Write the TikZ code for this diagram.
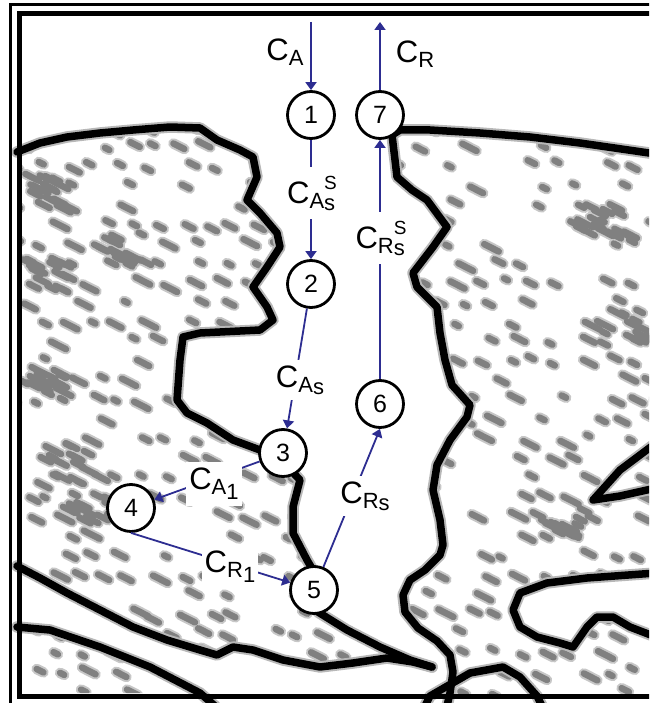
\documentclass[tikz,border=0pt]{standalone}
\usepackage{fontspec}
\setmainfont{Liberation Sans}
\usetikzlibrary{arrows.meta}
\definecolor{flowblue}{RGB}{45,45,145}
% index helpers for the concentration labels
\newcommand{\csub}[1]{\raisebox{-5pt}{\fontsize{22}{22}\selectfont #1}}
\newcommand{\csubs}[1]{\raisebox{-7pt}{\fontsize{22}{22}\selectfont #1}}
\newcommand{\csubsub}[1]{\raisebox{-10pt}{\fontsize{22}{22}\selectfont #1}}
\newcommand{\csup}[1]{\raisebox{14pt}{\fontsize{19}{19}\selectfont #1}}

\begin{document}
\begin{tikzpicture}[x=1pt,y=-1pt,
  site/.style={circle,draw=black,line width=2.8pt,fill=white,minimum size=47pt,inner sep=0pt,font=\fontsize{25}{25}\selectfont},
  flow/.style={draw=flowblue,line width=1.8pt,-{Triangle[length=8pt,width=11pt]}},
  conc/.style={fill=white,inner xsep=3pt,inner ysep=6pt,font=\fontsize{31}{31}\selectfont},
  wallhalo/.style={draw=black!28,line width=11.5pt,line join=round,line cap=round},
  wall/.style={draw=black,line width=7.5pt,line join=round,line cap=round},
  grainsoft/.style={draw=black!22,line width=10.5pt,line cap=round},
  graincore/.style={draw=black!50,line width=6.5pt,line cap=round}
]
\clip (0,0) rectangle (649,703);
\fill[white] (0,0) rectangle (649,703);

% wall outlines (used twice: soft halo, then dark core)
\def\wallpaths#1{%
\draw[#1] (17,152) -- (40,143) -- (67,137) -- (100,133) -- (133,130) -- (170,127) -- (200,128) -- (217,140) -- (240,150) -- (253,157) -- (257,177) -- (247,200) -- (260,213) -- (277,233) -- (280,247) -- (267,267) -- (253,287) -- (267,307) -- (273,320) -- (260,330) -- (200,333) -- (183,337) -- (180,360) -- (177,400) -- (187,413) -- (207,423) -- (233,440) -- (260,450) -- (283,462) -- (300,480) -- (293,507) -- (293,533) -- (307,560) -- (317,577) -- (318,612) -- (347,630) -- (380,647) -- (410,660) -- (432,667);
\draw[#1] (392,135) -- (395,160) -- (397,177) -- (412,190) -- (427,200) -- (447,227) -- (433,247) -- (413,273) -- (417,287) -- (437,307) -- (440,333) -- (445,360) -- (452,385) -- (470,405) -- (467,417) -- (450,440) -- (437,465) -- (433,490) -- (440,520) -- (443,545) -- (440,555) -- (425,570) -- (410,580) -- (403,595) -- (405,612) -- (418,628) -- (437,641) -- (450,655) -- (453,672) -- (450,693) -- (447,706);
\draw[#1] (392,135) -- (400,130) -- (430,130) -- (480,133) -- (530,137) -- (580,143) -- (656,154);
\draw[#1] (17,566) -- (40,578) -- (67,593) -- (100,610) -- (133,627) -- (167,640) -- (200,650) -- (217,655) -- (233,647) -- (253,650) -- (283,660) -- (320,667) -- (353,663) -- (387,658) -- (413,662) -- (432,667);
\draw[#1] (17,627) -- (50,630) -- (100,647) -- (150,667) -- (200,693) -- (215,706);
\draw[#1] (425,706) -- (430,696) -- (470,673) -- (503,667) -- (520,677) -- (537,696) -- (542,706);
\draw[#1] (656,573) -- (587,578) -- (547,583) -- (520,593) -- (513,610) -- (520,627) -- (537,637) -- (560,643) -- (573,647) -- (587,627) -- (597,617) -- (613,617) -- (630,627) -- (656,637);
\draw[#1] (656,443) -- (620,470) -- (593,500) -- (620,496) -- (656,488);
}

% grain texture: same seed each pass, so the soft pass and the core pass coincide
\def\grainpass#1{%
\pgfmathsetseed{4242}
\foreach \gx in {0,...,25}{
  \foreach \gy in {0,...,29}{
    \pgfmathsetmacro{\grx}{10+26*\gx+13*mod(\gy,2)+7*rand}
    \pgfmathsetmacro{\gry}{125+19.5*\gy+4*rand}
    \pgfmathsetmacro{\grl}{4+13*rnd}
    \pgfmathsetmacro{\grk}{rnd}
    \ifdim\grk pt<0.6pt
      \draw[#1] (\grx,\gry) -- ++(27:\grl);
    \fi
  }
}
\foreach \cx/\cy/\cr in {118/248/24, 45/190/22, 45/272/22, 55/465/30, 80/512/26, 40/380/20, 612/327/30, 600/215/24, 560/520/22}{
  \foreach \k in {1,...,14}{
    \pgfmathsetmacro{\grx}{\cx+\cr*rand}
    \pgfmathsetmacro{\gry}{\cy+0.75*\cr*rand}
    \pgfmathsetmacro{\grl}{6+12*rnd}
    \draw[#1] (\grx,\gry) -- ++(27:\grl);
  }
}
}

% ---- porous solid ----
\begin{scope}
\clip (21,152) -- (40,143) -- (67,137) -- (100,133) -- (133,130) -- (170,127) -- (200,128) -- (217,140) -- (240,150) -- (253,157) -- (257,177) -- (247,200) -- (260,213) -- (277,233) -- (280,247) -- (267,267) -- (253,287) -- (267,307) -- (273,320) -- (260,330) -- (200,333) -- (183,337) -- (180,360) -- (177,400) -- (187,413) -- (207,423) -- (233,440) -- (260,450) -- (283,462) -- (300,480) -- (293,507) -- (293,533) -- (307,560) -- (317,577) -- (318,612) -- (347,630) -- (380,647) -- (413,660) -- (387,658) -- (353,663) -- (320,667) -- (283,660) -- (253,650) -- (233,647) -- (217,655) -- (200,650) -- (167,640) -- (133,627) -- (100,610) -- (67,593) -- (40,578) -- (21,566) -- cycle
      (21,627) -- (50,630) -- (100,647) -- (150,667) -- (200,693) -- (21,693) -- cycle
      (392,135) -- (400,130) -- (430,130) -- (480,133) -- (530,137) -- (580,143) -- (649,153) -- (649,573) -- (587,578) -- (547,583) -- (520,593) -- (513,610) -- (520,627) -- (537,637) -- (560,643) -- (573,647) -- (587,627) -- (597,617) -- (613,617) -- (630,627) -- (649,637) -- (649,694) -- (450,694) -- (453,672) -- (450,655) -- (437,641) -- (418,628) -- (405,612) -- (403,595) -- (410,580) -- (425,570) -- (440,555) -- (443,545) -- (440,520) -- (433,490) -- (437,465) -- (450,440) -- (467,417) -- (470,405) -- (452,385) -- (445,360) -- (440,333) -- (437,307) -- (417,287) -- (413,273) -- (433,247) -- (447,227) -- (427,200) -- (412,190) -- (397,177) -- (395,160) -- cycle;
\grainpass{grainsoft}
\grainpass{graincore}
\end{scope}

% ---- pore walls ----
\wallpaths{wallhalo}
\wallpaths{wall}

% ---- double frame ----
\draw[line width=3pt] (10,5) rectangle (720,760);
\draw[line width=5pt] (19,13.5) rectangle (720,696);

% ---- reaction sites ----
\node[site] (n1) at (311,115) {1};
\node[site] (n7) at (380,115) {7};
\node[site] (n2) at (311,284) {2};
\node[site] (n6) at (380,404) {6};
\node[site] (n3) at (283,453) {3};
\node[site] (n4) at (131,508) {4};
\node[site] (n5) at (314,590) {5};
\coordinate (inA) at (311,22);
\coordinate (outR) at (380,22);

% ---- transport steps ----
\draw[flow] (inA) -- (n1);
\draw[flow] (n1) -- (n2);
\draw[flow] (n2) -- (n3);
\draw[flow] (n3) -- (n4);
\draw[flow] (n4.south) -- (n5);
\draw[flow] (n5) -- (n6.south);
\draw[flow] (n6) -- (n7);
\draw[flow] (n7) -- (outR);

% ---- concentration labels ----
\node[conc] (lA) at (285,52) {C\csub{A}};
\node[conc] (lR) at (415,54) {C\csub{R}};
\node[conc,inner ysep=9pt] (lAsS) at (312,193) {C\csub{A}\rlap{\csubs{s}}\csup{S}};
\node[conc,inner ysep=9pt] (lRsS) at (381,238) {C\csub{R}\rlap{\csubs{s}}\csup{S}};
\node[conc] (lAs) at (300,380) {C\csub{A}\csubs{s}};
\node[conc] (lA1) at (214,484) {C\csub{A}\csubsub{1}};
\node[conc] (lR1) at (230,567) {C\csub{R}\csubsub{1}};
\node[conc] (lRs) at (365,496) {C\csub{R}\csubs{s}};
\end{tikzpicture}
\end{document}
